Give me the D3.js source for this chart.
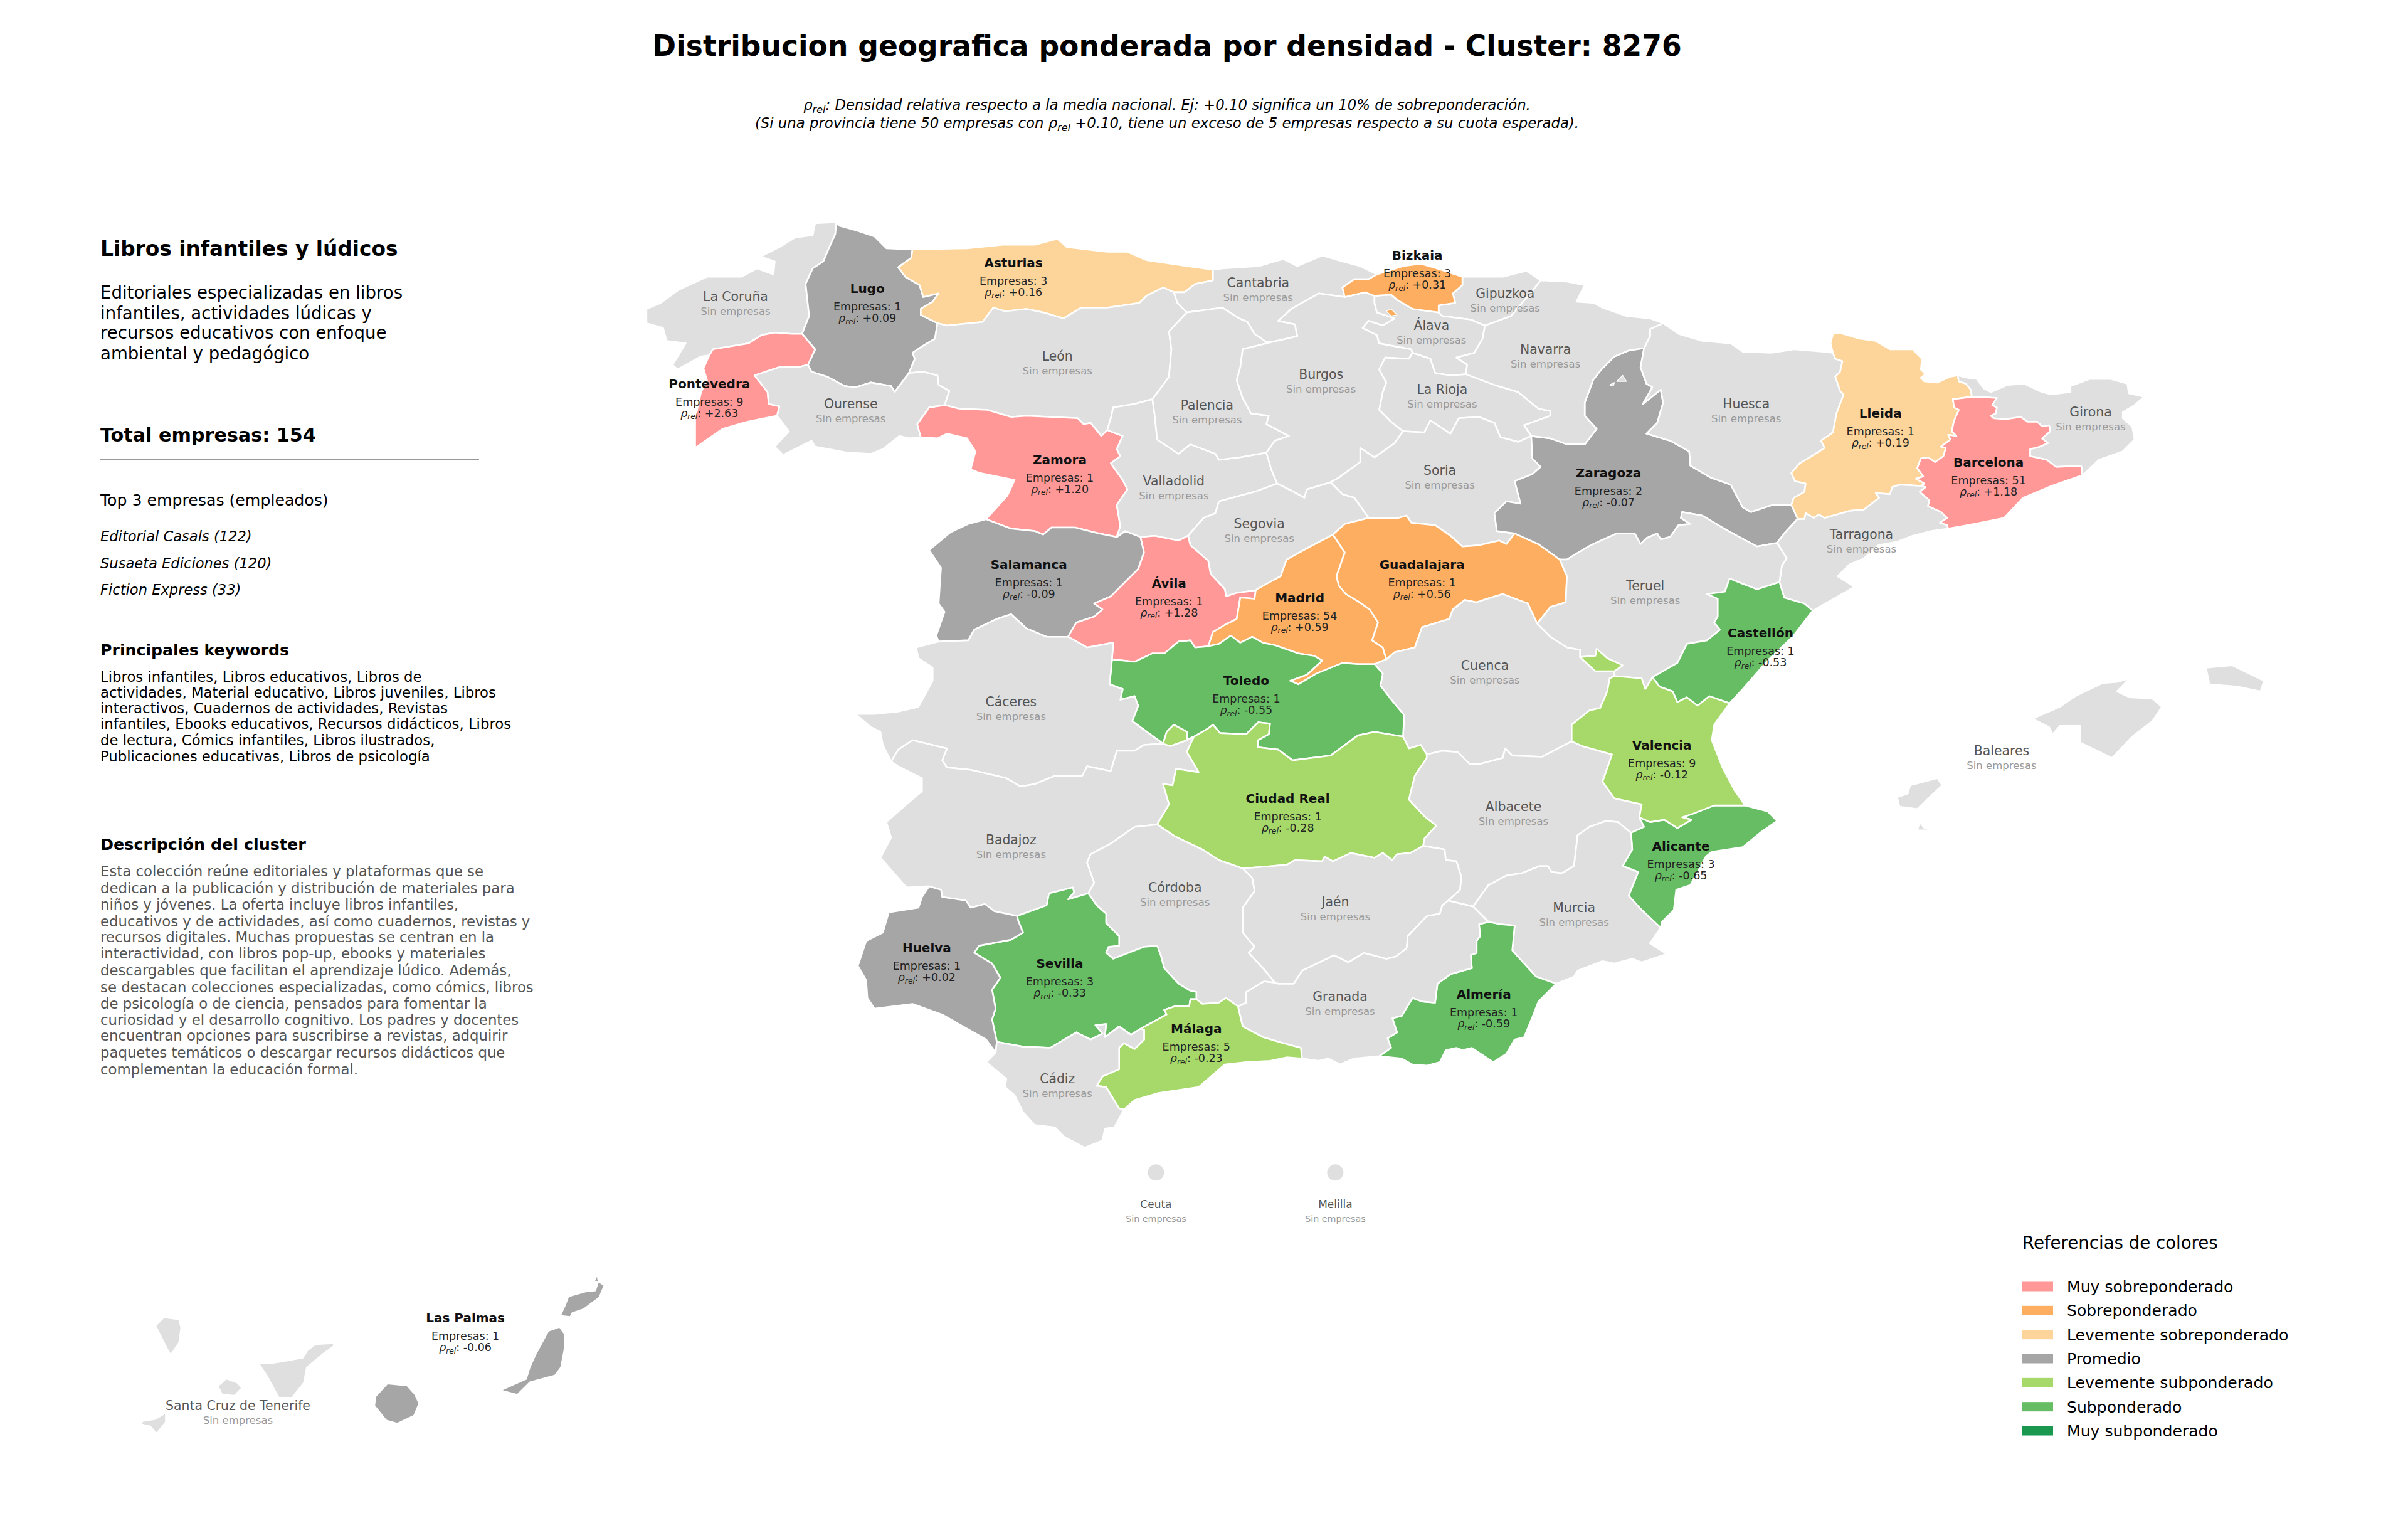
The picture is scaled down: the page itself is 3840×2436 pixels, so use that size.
<!DOCTYPE html>
<html>
<head>
<meta charset="utf-8">
<title>Distribucion geografica</title>
<script src="https://cdn.jsdelivr.net/npm/d3@7"></script>
<style>
  html, body { margin: 0; padding: 0; background: #fff; }
  svg { display: block; font-family: "DejaVu Sans", sans-serif; }
</style>
</head>
<body>
<div id="chart"></div>
<script>
// provinces with companies
var activeNames = ["Pontevedra","Lugo","Asturias","Bizkaia","Zamora","Salamanca","Ávila","Madrid","Guadalajara","Zaragoza","Lleida","Barcelona","Castellón","Valencia","Toledo","Ciudad Real","Alicante","Huelva","Sevilla","Málaga","Almería","Las Palmas"];
var activeEmpresas = [9,1,3,3,1,1,1,54,1,2,1,51,1,9,1,1,3,1,3,5,1,1];
var activeRho = [2.63,0.09,0.16,0.31,1.20,-0.09,1.28,0.59,0.56,-0.07,0.19,1.18,-0.53,-0.12,-0.55,-0.28,-0.65,0.02,-0.33,-0.23,-0.59,-0.06];

var legendLabels = ["Muy sobreponderado","Sobreponderado","Levemente sobreponderado","Promedio","Levemente subponderado","Subponderado","Muy subponderado"];
var legendColors = ["#ff9896","#fdae61","#fdd49a","#a6a6a6","#a6d96a","#66bd63","#1a9850"];
var rhoBreaks = [-0.75,-0.3,-0.1,0.1,0.25,1.0];

var keywordLines = ["Libros infantiles, Libros educativos, Libros de","actividades, Material educativo, Libros juveniles, Libros","interactivos, Cuadernos de actividades, Revistas","infantiles, Ebooks educativos, Recursos didácticos, Libros","de lectura, Cómics infantiles, Libros ilustrados,","Publicaciones educativas, Libros de psicología"];
var descLines = ["Esta colección reúne editoriales y plataformas que se","dedican a la publicación y distribución de materiales para","niños y jóvenes. La oferta incluye libros infantiles,","educativos y de actividades, así como cuadernos, revistas y","recursos digitales. Muchas propuestas se centran en la","interactividad, con libros pop-up, ebooks y materiales","descargables que facilitan el aprendizaje lúdico. Además,","se destacan colecciones especializadas, como cómics, libros","de psicología o de ciencia, pensados para fomentar la","curiosidad y el desarrollo cognitivo. Los padres y docentes","encuentran opciones para suscribirse a revistas, adquirir","paquetes temáticos o descargar recursos didácticos que","complementan la educación formal."];
var clusterLines = ["Editoriales especializadas en libros","infantiles, actividades lúdicas y","recursos educativos con enfoque","ambiental y pedagógico"];
var topCompanies = ["Editorial Casals (122)","Susaeta Ediciones (120)","Fiction Express (33)"];

// province boundaries in lon/lat. shared arcs so the borders line up
var borderArcs = {
  cor_coast: [[-7.69,43.79],[-7.87,43.78],[-7.89,43.68],[-8.04,43.66],[-8.17,43.58],[-8.33,43.50],[-8.21,43.46],[-8.22,43.35],[-8.36,43.40],[-8.49,43.33],[-8.78,43.33],[-9.02,43.22],[-9.17,43.11],[-9.29,43.06],[-9.29,42.94],[-9.15,42.90],[-9.12,42.79],[-8.96,42.77],[-9.07,42.59],[-9.03,42.55],[-8.83,42.66],[-8.76,42.67]],
  cor_pon: [[-8.76,42.67],[-8.73,42.72],[-8.61,42.74],[-8.43,42.77],[-8.32,42.84],[-8.21,42.86],[-8.07,42.85],[-7.98,42.85]],
  cor_lug: [[-7.69,43.79],[-7.70,43.69],[-7.75,43.58],[-7.80,43.46],[-7.89,43.40],[-7.95,43.27],[-7.92,43.00],[-7.98,42.85]],
  lug_coast: [[-7.69,43.79],[-7.67,43.76],[-7.52,43.72],[-7.37,43.67],[-7.27,43.57],[-7.05,43.56]],
  lug_ast: [[-7.05,43.56],[-7.06,43.49],[-7.17,43.41],[-7.11,43.33],[-6.99,43.26],[-6.96,43.16],[-6.83,43.19],[-6.88,43.12],[-6.98,43.06],[-6.98,43.01],[-6.84,42.94]],
  lug_leo: [[-6.84,42.94],[-6.86,42.81],[-6.96,42.75],[-7.05,42.69],[-7.03,42.64],[-7.08,42.52]],
  lug_our: [[-7.08,42.52],[-7.20,42.36],[-7.23,42.41],[-7.40,42.44],[-7.53,42.40],[-7.62,42.41],[-7.77,42.49],[-7.90,42.53],[-7.93,42.59]],
  lug_pon: [[-7.93,42.59],[-7.87,42.72],[-7.98,42.85]],
  ast_coast: [[-7.05,43.56],[-6.59,43.57],[-6.29,43.60],[-6.02,43.60],[-5.83,43.65],[-5.75,43.58],[-5.41,43.54],[-5.24,43.54],[-5.08,43.47],[-4.74,43.42],[-4.52,43.39]],
  ast_can: [[-4.52,43.39],[-4.52,43.30],[-4.67,43.27],[-4.76,43.20],[-4.85,43.20]],
  ast_leo: [[-4.85,43.20],[-4.94,43.24],[-5.08,43.17],[-5.14,43.11],[-5.41,43.07],[-5.63,43.07],[-5.78,42.98],[-5.95,43.03],[-6.09,43.06],[-6.27,43.04],[-6.37,43.07],[-6.46,42.95],[-6.76,42.92],[-6.84,42.94]],
  leo_can: [[-4.85,43.20],[-4.82,43.11],[-4.74,43.03]],
  leo_pal: [[-4.74,43.03],[-4.89,42.87],[-4.87,42.72],[-4.89,42.49],[-4.97,42.38],[-5.03,42.30]],
  leo_val: [[-5.03,42.30],[-5.18,42.26],[-5.36,42.23],[-5.38,42.14],[-5.41,42.04]],
  leo_zam: [[-5.41,42.04],[-5.46,41.99],[-5.55,42.10],[-5.61,42.09],[-5.66,42.14],[-5.88,42.15],[-6.09,42.16],[-6.22,42.15],[-6.42,42.21],[-6.66,42.22],[-6.78,42.25]],
  leo_our: [[-6.78,42.25],[-6.74,42.37],[-6.83,42.42],[-6.84,42.50],[-6.96,42.53],[-7.08,42.52]],
  our_zam: [[-6.78,42.25],[-6.91,42.23],[-7.01,42.09],[-6.98,41.98]],
  our_por: [[-6.98,41.98],[-7.08,41.97],[-7.16,41.99],[-7.30,41.88],[-7.40,41.84],[-7.60,41.85],[-7.87,41.90],[-7.90,41.95],[-8.14,41.83],[-8.21,41.90],[-8.09,42.03],[-8.19,42.16]],
  pon_our: [[-7.93,42.59],[-8.01,42.57],[-8.17,42.57],[-8.38,42.50],[-8.27,42.36],[-8.26,42.26],[-8.17,42.24],[-8.19,42.16]],
  pon_coast: [[-8.76,42.67],[-8.81,42.56],[-8.78,42.46],[-8.83,42.36],[-8.88,42.14],[-8.88,41.89],[-8.65,42.05],[-8.44,42.11],[-8.19,42.16]],
  zam_por: [[-6.98,41.98],[-6.84,41.97],[-6.76,42.01],[-6.59,41.97],[-6.52,41.86],[-6.56,41.71],[-6.49,41.68],[-6.19,41.62],[-6.25,41.49],[-6.43,41.29]],
  zam_sal: [[-6.43,41.29],[-6.22,41.21],[-6.02,41.19],[-5.95,41.16],[-5.88,41.22],[-5.68,41.22],[-5.48,41.17],[-5.33,41.14]],
  zam_val: [[-5.41,42.04],[-5.28,41.99],[-5.33,41.88],[-5.30,41.82],[-5.38,41.76],[-5.28,41.62],[-5.24,41.54],[-5.33,41.41],[-5.30,41.23],[-5.33,41.14]],
  sal_val: [[-5.33,41.14],[-5.26,41.19],[-5.13,41.14]],
  sal_por: [[-6.43,41.29],[-6.58,41.25],[-6.73,41.18],[-6.91,41.03],[-6.81,40.88],[-6.83,40.58],[-6.78,40.51],[-6.85,40.31],[-6.83,40.26]],
  sal_cac: [[-6.83,40.26],[-6.58,40.27],[-6.53,40.36],[-6.34,40.45],[-6.22,40.49],[-6.09,40.37],[-5.92,40.30],[-5.74,40.30]],
  sal_avi: [[-5.74,40.30],[-5.67,40.42],[-5.52,40.47],[-5.45,40.53],[-5.52,40.58],[-5.38,40.64],[-5.15,40.87],[-5.10,41.01],[-5.13,41.14]],
  avi_val: [[-5.13,41.14],[-5.01,41.15],[-4.81,41.11],[-4.73,41.15]],
  avi_seg: [[-4.73,41.15],[-4.71,41.07],[-4.56,40.94],[-4.54,40.83],[-4.42,40.70],[-4.41,40.64],[-4.32,40.67],[-4.16,40.69]],
  avi_mad: [[-4.16,40.69],[-4.17,40.62],[-4.29,40.63],[-4.32,40.45],[-4.42,40.40],[-4.52,40.34],[-4.56,40.22]],
  avi_tol: [[-4.56,40.22],[-4.67,40.21],[-4.71,40.27],[-4.81,40.26],[-4.93,40.16],[-5.03,40.16],[-5.18,40.09],[-5.37,40.11]],
  avi_cac: [[-5.37,40.11],[-5.36,40.25],[-5.58,40.21],[-5.74,40.30]],
  tol_cac: [[-5.37,40.11],[-5.39,39.90],[-5.28,39.86],[-5.30,39.77],[-5.18,39.80],[-5.15,39.72],[-5.20,39.59],[-4.94,39.40]],
  tol_exc: [[-4.94,39.40],[-4.91,39.50],[-4.85,39.56],[-4.74,39.50],[-4.74,39.43],[-4.68,39.46]],
  bad_exc: [[-4.94,39.40],[-4.88,39.38],[-4.74,39.43],[-4.68,39.46]],
  tol_cr: [[-4.68,39.46],[-4.56,39.53],[-4.52,39.56],[-4.46,39.49],[-4.24,39.48],[-4.14,39.58],[-4.04,39.57],[-4.05,39.48],[-4.14,39.43],[-4.14,39.37],[-3.97,39.35],[-3.85,39.26],[-3.53,39.30],[-3.30,39.47],[-3.16,39.50],[-2.92,39.46]],
  cr_bad: [[-4.68,39.46],[-4.74,39.33],[-4.64,39.16],[-4.83,39.19],[-4.86,39.05],[-4.94,39.06],[-4.89,38.89],[-4.99,38.72]],
  cac_bad: [[-4.94,39.40],[-5.10,39.39],[-5.18,39.34],[-5.33,39.34],[-5.38,39.17],[-5.58,39.21],[-5.62,39.13],[-5.85,39.13],[-6.02,39.06],[-6.14,39.04],[-6.26,39.11],[-6.56,39.18],[-6.76,39.20],[-6.80,39.26],[-6.76,39.36],[-7.05,39.43],[-7.17,39.35],[-7.23,39.25]],
  cac_por: [[-6.83,40.26],[-7.02,40.21],[-7.00,40.12],[-6.88,40.04],[-6.88,39.93],[-7.00,39.71],[-7.17,39.67],[-7.37,39.65],[-7.53,39.65],[-7.40,39.54],[-7.32,39.50],[-7.30,39.39],[-7.23,39.25]],
  bad_por: [[-7.23,39.25],[-7.17,39.21],[-6.97,39.11],[-6.97,39.00],[-7.10,38.89],[-7.27,38.74],[-7.23,38.61],[-7.32,38.44],[-7.10,38.19],[-6.91,38.20]],
  bad_hue: [[-6.91,38.20],[-6.81,38.17],[-6.80,38.11],[-6.60,38.08],[-6.56,38.02],[-6.44,38.05],[-6.36,37.99],[-6.17,37.95]],
  bad_sev: [[-6.17,37.95],[-5.92,38.04],[-5.90,38.14],[-5.70,38.19],[-5.69,38.15],[-5.74,38.09],[-5.57,38.14]],
  bad_cor: [[-5.57,38.14],[-5.52,38.23],[-5.58,38.40],[-5.55,38.47],[-5.38,38.56],[-5.18,38.70],[-4.99,38.72]],
  cr_cor: [[-4.99,38.72],[-4.84,38.62],[-4.61,38.51],[-4.47,38.42],[-4.27,38.35]],
  cr_jae: [[-4.27,38.35],[-3.90,38.38],[-3.83,38.42],[-3.60,38.41],[-3.58,38.45],[-3.51,38.41],[-3.36,38.48],[-3.16,38.44],[-3.09,38.48],[-3.01,38.42],[-2.97,38.47],[-2.86,38.48],[-2.75,38.54]],
  cr_alb: [[-2.75,38.54],[-2.74,38.60],[-2.64,38.71],[-2.74,38.79],[-2.87,38.93],[-2.82,39.13],[-2.72,39.28],[-2.72,39.31]],
  cr_cue: [[-2.72,39.31],[-2.77,39.39],[-2.87,39.36],[-2.92,39.46]],
  alb_cue: [[-2.72,39.31],[-2.59,39.34],[-2.46,39.33],[-2.36,39.23],[-2.27,39.23],[-2.08,39.28],[-2.06,39.36],[-2.00,39.30],[-1.75,39.29],[-1.50,39.42]],
  cue_val: [[-1.50,39.42],[-1.50,39.56],[-1.35,39.68],[-1.26,39.70],[-1.20,39.84],[-1.18,39.95],[-1.14,39.97]],
  cue_ter: [[-1.14,39.97],[-1.14,40.01],[-1.30,40.01],[-1.43,40.13],[-1.43,40.19],[-1.54,40.21],[-1.68,40.30],[-1.79,40.41]],
  gua_ter: [[-1.79,40.41],[-1.68,40.55],[-1.55,40.59],[-1.54,40.81],[-1.60,40.95]],
  gua_cue: [[-1.79,40.41],[-1.87,40.58],[-2.08,40.66],[-2.21,40.62],[-2.30,40.59],[-2.40,40.61],[-2.50,40.53],[-2.53,40.45],[-2.76,40.38],[-2.82,40.21],[-2.99,40.17],[-3.06,40.11]],
  mad_cue: [[-3.06,40.11],[-3.16,40.07]],
  gua_mad: [[-3.06,40.11],[-3.09,40.21],[-3.18,40.27],[-3.13,40.42],[-3.20,40.53],[-3.30,40.60],[-3.40,40.66],[-3.46,40.73],[-3.48,40.81],[-3.41,41.01],[-3.51,41.16]],
  mad_seg: [[-3.51,41.16],[-3.70,41.06],[-3.90,40.95],[-3.95,40.81],[-4.15,40.70],[-4.16,40.69]],
  mad_tol: [[-3.16,40.07],[-3.30,40.07],[-3.43,40.08],[-3.65,39.99],[-3.80,39.90],[-3.87,39.93],[-3.73,39.98],[-3.60,40.10],[-3.67,40.14],[-3.80,40.16],[-4.00,40.23],[-4.10,40.25],[-4.19,40.30],[-4.29,40.25],[-4.37,40.31],[-4.47,40.24],[-4.56,40.22]],
  tol_cue: [[-3.16,40.07],[-3.09,39.99],[-3.11,39.89],[-3.01,39.76],[-2.91,39.64],[-2.92,39.46]],
  seg_val: [[-4.73,41.15],[-4.60,41.30],[-4.50,41.34],[-4.47,41.44],[-4.17,41.52],[-3.98,41.59]],
  bur_seg: [[-3.98,41.59],[-3.86,41.53],[-3.75,41.47],[-3.73,41.54],[-3.53,41.60]],
  seg_sor: [[-3.53,41.60],[-3.43,41.50],[-3.33,41.47],[-3.21,41.30]],
  gua_seg: [[-3.21,41.30],[-3.41,41.25],[-3.51,41.16]],
  gua_sor: [[-3.21,41.30],[-2.96,41.30],[-2.89,41.32],[-2.85,41.26],[-2.65,41.24],[-2.52,41.15],[-2.42,41.06],[-2.28,41.07],[-2.11,41.11],[-2.05,41.08],[-1.98,41.17]],
  gua_zar: [[-1.98,41.17],[-1.78,41.08],[-1.60,40.95]],
  sor_zar: [[-1.84,41.99],[-1.83,41.80],[-1.76,41.73],[-1.83,41.67],[-1.98,41.61],[-1.93,41.42],[-2.05,41.44],[-2.10,41.39],[-2.15,41.34],[-2.13,41.19],[-1.98,41.17]],
  nav_zar: [[-1.84,41.99],[-1.68,41.97],[-1.54,41.92],[-1.39,41.92],[-1.29,42.05],[-1.39,42.16],[-1.39,42.27],[-1.32,42.46],[-1.25,42.55],[-1.14,42.66],[-1.02,42.71],[-0.89,42.73]],
  hue_zar: [[-0.89,42.73],[-0.92,42.57],[-0.87,42.43],[-0.82,42.40],[-0.90,42.26],[-0.75,42.38],[-0.73,42.27],[-0.78,42.10],[-0.87,42.01],[-0.67,41.95],[-0.51,41.86],[-0.50,41.74],[-0.33,41.64],[-0.16,41.58],[-0.06,41.39],[0.01,41.35],[0.19,41.41],[0.35,41.41]],
  lle_zar: [[0.35,41.41],[0.40,41.30],[0.40,41.29]],
  tar_zar: [[0.40,41.29],[0.29,41.17],[0.23,41.09]],
  ter_zar: [[0.23,41.09],[0.06,41.06],[-0.20,41.20],[-0.40,41.32],[-0.57,41.35],[-0.58,41.30],[-0.50,41.25],[-0.60,41.24],[-0.67,41.14],[-0.75,41.12],[-0.78,41.17],[-0.87,41.13],[-0.92,41.08],[-0.97,41.17],[-1.12,41.17],[-1.34,41.07],[-1.46,41.00],[-1.54,40.95],[-1.60,40.95]],
  hue_nav: [[-0.89,42.73],[-0.84,42.83],[-0.84,42.89],[-0.73,42.94]],
  hue_fra: [[-0.73,42.94],[-0.60,42.85],[-0.40,42.79],[-0.16,42.77],[-0.06,42.70],[0.18,42.69],[0.38,42.72],[0.62,42.70],[0.70,42.69]],
  hue_lle: [[0.70,42.69],[0.72,42.64],[0.78,42.62],[0.76,42.53],[0.72,42.49],[0.76,42.37],[0.79,42.34],[0.73,42.18],[0.70,42.02],[0.60,41.95],[0.63,41.89],[0.52,41.82],[0.42,41.76],[0.35,41.68],[0.38,41.61],[0.47,41.59],[0.46,41.52],[0.37,41.47],[0.35,41.41]],
  lle_fra: [[0.70,42.69],[0.68,42.77],[0.70,42.85],[0.75,42.86],[0.92,42.81],[1.06,42.79],[1.18,42.72],[1.37,42.72],[1.45,42.64],[1.44,42.55],[1.48,42.51],[1.44,42.48],[1.47,42.45],[1.58,42.44],[1.69,42.49],[1.75,42.50]],
  lle_gir: [[1.75,42.50],[1.76,42.45],[1.82,42.43],[1.86,42.38],[1.87,42.32]],
  bar_lle: [[1.87,42.32],[1.71,42.30],[1.72,42.23],[1.76,42.21],[1.72,42.12],[1.70,42.03],[1.74,41.99],[1.67,42.00],[1.69,41.96],[1.61,41.90],[1.65,41.89],[1.63,41.82],[1.56,41.77],[1.50,41.81],[1.44,41.80],[1.41,41.72],[1.46,41.65],[1.40,41.63],[1.47,41.59],[1.44,41.57]],
  lle_tar: [[0.40,41.29],[0.46,41.29],[0.47,41.34],[0.54,41.30],[0.58,41.33],[0.63,41.30],[0.84,41.36],[0.96,41.37],[1.09,41.47],[1.06,41.51],[1.18,41.50],[1.20,41.56],[1.26,41.58],[1.44,41.57]],
  bar_tar: [[1.44,41.57],[1.48,41.56],[1.43,41.52],[1.51,41.45],[1.50,41.40],[1.61,41.35],[1.66,41.30],[1.60,41.26],[1.66,41.24],[1.67,41.21]],
  bar_gir: [[1.87,42.32],[1.93,42.32],[2.08,42.31],[2.04,42.25],[2.08,42.23],[2.07,42.18],[2.03,42.16],[2.05,42.14],[2.15,42.13],[2.28,42.15],[2.34,42.11],[2.42,42.11],[2.46,42.07],[2.52,42.08],[2.53,42.03],[2.46,41.97],[2.51,41.93],[2.44,41.90],[2.36,41.88],[2.36,41.82],[2.50,41.79],[2.58,41.73],[2.79,41.74],[2.80,41.66]],
  bar_coast: [[2.80,41.66],[2.54,41.57],[2.30,41.47],[2.14,41.30],[1.89,41.25],[1.67,41.21]],
  gir_coast: [[2.80,41.66],[2.94,41.79],[3.14,41.86],[3.24,41.96],[3.22,42.07],[3.14,42.14],[3.14,42.19],[3.24,42.25],[3.32,42.32],[3.19,42.35],[3.18,42.43],[3.04,42.47],[2.86,42.47],[2.70,42.41],[2.70,42.36],[2.54,42.34],[2.46,42.36],[2.31,42.43],[2.17,42.42],[2.03,42.36],[1.97,42.39],[1.91,42.47],[1.83,42.48],[1.75,42.50]],
  tar_coast: [[1.67,41.21],[1.53,41.19],[1.37,41.15],[1.24,41.10],[1.08,41.07],[0.96,40.96],[0.84,40.91],[0.74,40.81],[0.88,40.72],[0.74,40.64],[0.53,40.52]],
  tar_ter: [[0.23,41.09],[0.31,40.96],[0.27,40.90],[0.25,40.76]],
  tar_cas: [[0.25,40.76],[0.29,40.63],[0.46,40.58],[0.53,40.52]],
  cas_ter: [[0.25,40.76],[0.06,40.70],[-0.07,40.75],[-0.17,40.79],[-0.21,40.68],[-0.36,40.66],[-0.27,40.62],[-0.27,40.47],[-0.30,40.42],[-0.25,40.36],[-0.36,40.27],[-0.53,40.24],[-0.61,40.08],[-0.82,39.96]],
  cas_coast: [[0.53,40.52],[0.36,40.30],[0.15,40.10],[-0.06,39.86],[-0.17,39.74]],
  cas_val: [[-0.17,39.74],[-0.34,39.80],[-0.44,39.72],[-0.53,39.79],[-0.61,39.75],[-0.65,39.84],[-0.76,39.88],[-0.82,39.96]],
  ter_val: [[-0.82,39.96],[-0.88,39.86],[-0.91,39.95],[-1.14,39.97]],
  val_coast: [[-0.17,39.74],[-0.30,39.56],[-0.32,39.43],[-0.23,39.20],[-0.13,39.01],[-0.04,38.88]],
  ali_val: [[-0.04,38.88],[-0.15,38.88],[-0.30,38.88],[-0.48,38.81],[-0.57,38.78],[-0.49,38.76],[-0.61,38.69],[-0.72,38.76],[-0.84,38.74],[-0.93,38.78]],
  alb_val: [[-0.93,38.78],[-0.91,38.89],[-1.14,38.94],[-1.24,39.08],[-1.16,39.31],[-1.41,39.38],[-1.50,39.42]],
  ali_coast: [[-0.04,38.88],[0.15,38.83],[0.23,38.75],[0.10,38.66],[-0.06,38.53],[-0.32,38.49],[-0.37,38.45],[-0.50,38.21],[-0.62,38.17],[-0.64,38.00],[-0.74,37.90],[-0.75,37.85]],
  ali_mur: [[-0.75,37.85],[-0.91,38.00],[-1.02,38.12],[-0.94,38.32],[-1.07,38.37],[-0.99,38.51],[-1.00,38.65]],
  alb_ali: [[-1.00,38.65],[-0.89,38.70],[-0.93,38.78]],
  alb_mur: [[-1.00,38.65],[-1.11,38.74],[-1.21,38.75],[-1.35,38.70],[-1.45,38.63],[-1.48,38.37],[-1.58,38.31],[-1.67,38.32],[-1.70,38.37],[-1.77,38.37],[-1.92,38.31],[-2.05,38.29],[-2.20,38.21],[-2.33,38.03]],
  alb_gra: [[-2.33,38.03],[-2.54,38.08]],
  alb_jae: [[-2.54,38.08],[-2.44,38.17],[-2.43,38.28],[-2.47,38.41],[-2.56,38.42],[-2.57,38.51],[-2.75,38.54]],
  gra_mur: [[-2.33,38.03],[-2.20,37.90]],
  alm_mur: [[-2.20,37.90],[-2.10,37.88],[-1.98,37.87],[-2.00,37.66],[-1.80,37.44],[-1.63,37.38]],
  mur_coast: [[-0.75,37.85],[-0.84,37.72],[-0.70,37.63],[-0.91,37.56],[-0.99,37.59],[-1.14,37.55],[-1.24,37.57],[-1.45,37.49],[-1.48,37.44],[-1.63,37.38]],
  alm_coast: [[-1.63,37.38],[-1.78,37.23],[-1.83,37.10],[-1.90,36.93],[-1.98,36.91],[-2.05,36.79],[-2.16,36.72],[-2.34,36.84],[-2.42,36.82],[-2.47,36.84],[-2.56,36.82],[-2.61,36.72],[-2.72,36.69],[-2.84,36.70],[-2.93,36.75],[-3.12,36.77]],
  alm_gra: [[-3.12,36.77],[-3.02,36.84],[-3.05,36.92],[-2.97,36.97],[-3.01,37.09],[-2.93,37.11],[-2.84,37.26],[-2.76,37.23],[-2.65,37.22],[-2.63,37.38],[-2.52,37.46],[-2.34,37.51],[-2.35,37.62],[-2.30,37.64],[-2.30,37.74],[-2.27,37.78],[-2.28,37.88],[-2.20,37.90]],
  gra_jae: [[-2.54,38.08],[-2.59,38.04],[-2.61,37.97],[-2.72,37.95],[-2.88,37.78],[-2.89,37.68],[-2.98,37.61],[-3.06,37.59],[-3.25,37.64],[-3.38,37.56],[-3.50,37.62],[-3.77,37.49],[-3.84,37.38],[-3.97,37.38],[-4.00,37.39]],
  cor_jae: [[-4.27,38.35],[-4.19,38.27],[-4.17,38.16],[-4.27,38.02],[-4.27,37.81],[-4.17,37.69],[-4.22,37.64],[-4.09,37.50],[-4.00,37.39]],
  cor_gra: [[-4.00,37.39],[-4.09,37.40],[-4.24,37.31],[-4.24,37.22],[-4.31,37.19]],
  gra_mal: [[-4.31,37.19],[-4.27,37.02],[-4.10,36.93],[-3.93,36.88],[-3.78,36.84],[-3.77,36.75]],
  gra_coast: [[-3.77,36.75],[-3.63,36.73],[-3.55,36.75],[-3.45,36.70],[-3.33,36.75],[-3.12,36.77]],
  cor_mal: [[-4.31,37.19],[-4.41,37.26],[-4.47,37.22],[-4.61,37.21],[-4.66,37.25]],
  cor_sev: [[-5.57,38.14],[-5.50,38.04],[-5.42,37.97],[-5.42,37.89],[-5.31,37.78],[-5.31,37.70],[-5.40,37.69],[-5.42,37.64],[-5.36,37.59],[-5.18,37.66],[-5.10,37.69],[-4.99,37.70],[-4.96,37.62],[-4.93,37.51],[-4.81,37.38],[-4.71,37.32],[-4.66,37.31],[-4.66,37.25]],
  mal_sev: [[-4.66,37.25],[-4.71,37.25],[-4.72,37.19],[-4.84,37.19],[-4.93,37.16],[-4.91,37.12],[-5.13,37.00]],
  cad_sev: [[-5.13,37.00],[-5.21,36.95],[-5.31,37.02],[-5.43,36.93],[-5.42,37.04],[-5.51,37.03],[-5.45,36.96],[-5.55,36.91],[-5.67,36.97],[-5.89,36.84],[-6.12,36.85],[-6.34,36.89]],
  hue_sev: [[-6.34,36.89],[-6.38,37.08],[-6.35,37.17],[-6.38,37.33],[-6.31,37.43],[-6.38,37.55],[-6.53,37.64],[-6.49,37.70],[-6.22,37.75],[-6.12,37.81],[-6.16,37.91],[-6.17,37.95]],
  gua_river: [[-6.34,36.89],[-6.35,36.80]],
  hue_coast: [[-6.35,36.80],[-6.43,36.91],[-6.80,37.12],[-7.05,37.21],[-7.37,37.17],[-7.43,37.26],[-7.44,37.41],[-7.51,37.53],[-7.44,37.74],[-7.30,37.81],[-7.25,37.98],[-7.00,38.02],[-6.97,38.11],[-6.91,38.20]],
  cad_coast: [[-6.35,36.80],[-6.43,36.72],[-6.26,36.58],[-6.27,36.51],[-6.19,36.44],[-6.12,36.30],[-6.02,36.19],[-5.85,36.17],[-5.77,36.09],[-5.60,36.00],[-5.45,36.06],[-5.43,36.16],[-5.35,36.17],[-5.27,36.32]],
  cad_mal: [[-5.27,36.32],[-5.31,36.33],[-5.42,36.51],[-5.50,36.52],[-5.45,36.60],[-5.31,36.66],[-5.31,36.84],[-5.27,36.88],[-5.18,36.83],[-5.10,36.91],[-5.10,36.99],[-5.13,37.00]],
  mal_coast: [[-5.27,36.32],[-5.18,36.40],[-4.98,36.46],[-4.64,36.51],[-4.42,36.70],[-4.24,36.72],[-4.04,36.73],[-3.90,36.76],[-3.77,36.75]],
  can_coast: [[-4.52,43.39],[-4.44,43.40],[-4.13,43.42],[-3.93,43.48],[-3.81,43.42],[-3.60,43.51],[-3.43,43.46],[-3.28,43.42],[-3.14,43.35]],
  biz_can: [[-3.14,43.35],[-3.21,43.31],[-3.33,43.31],[-3.43,43.24],[-3.41,43.16]],
  biz_bur: [[-3.41,43.16],[-3.24,43.20],[-3.16,43.17]],
  biz_ala: [[-3.16,43.17],[-3.02,43.18],[-2.96,43.13],[-2.84,43.06],[-2.62,43.03]],
  biz_gip: [[-2.42,43.33],[-2.42,43.26],[-2.50,43.19],[-2.48,43.11],[-2.62,43.09],[-2.62,43.03]],
  biz_coast: [[-3.14,43.35],[-2.92,43.42],[-2.77,43.44],[-2.60,43.39],[-2.42,43.33]],
  gip_coast: [[-2.42,43.33],[-2.08,43.33],[-1.88,43.38],[-1.76,43.30]],
  gip_nav: [[-1.76,43.30],[-1.84,43.20],[-2.01,43.00],[-2.23,42.92]],
  ala_gip: [[-2.23,42.92],[-2.35,42.97],[-2.59,43.00],[-2.62,43.03]],
  nav_fra: [[-0.73,42.94],[-0.84,42.98],[-1.04,43.00],[-1.24,43.07],[-1.31,43.11],[-1.46,43.12],[-1.39,43.26],[-1.54,43.29],[-1.76,43.30]],
  ala_nav: [[-2.23,42.92],[-2.25,42.81],[-2.32,42.69],[-2.47,42.65],[-2.38,42.59],[-2.39,42.51]],
  ala_rio: [[-2.84,42.69],[-2.69,42.64],[-2.65,42.52],[-2.52,42.50],[-2.39,42.51]],
  ala_bur: [[-3.16,43.17],[-3.16,43.11],[-3.14,43.03],[-2.99,42.98],[-3.09,42.92],[-3.21,42.96],[-3.26,42.90],[-3.14,42.84],[-3.12,42.77],[-2.85,42.72],[-2.84,42.69]],
  bur_rio: [[-2.84,42.69],[-2.87,42.64],[-3.07,42.65],[-3.12,42.55],[-3.06,42.44],[-3.09,42.36],[-3.12,42.21],[-3.02,42.11],[-2.92,42.03]],
  nav_rio: [[-2.39,42.51],[-2.15,42.42],[-1.95,42.36],[-1.78,42.22],[-1.68,42.20],[-1.68,42.16],[-1.90,42.08],[-1.84,41.99]],
  rio_sor: [[-2.92,42.03],[-2.74,42.02],[-2.69,42.12],[-2.52,42.01],[-2.45,42.14],[-2.28,42.15],[-2.15,42.10],[-2.10,41.98],[-1.95,41.94],[-1.84,41.99]],
  bur_sor: [[-2.92,42.03],[-2.99,41.93],[-3.16,41.81],[-3.28,41.89],[-3.28,41.77],[-3.46,41.64],[-3.53,41.60]],
  bur_can: [[-3.41,43.16],[-3.63,43.19],[-3.86,43.06],[-3.97,42.96],[-3.83,42.93],[-3.81,42.83],[-4.03,42.78]],
  can_pal: [[-4.74,43.03],[-4.44,43.07],[-4.30,42.98],[-4.23,42.95],[-4.17,42.85],[-4.07,42.78],[-4.03,42.78]],
  bur_pal: [[-4.03,42.78],[-4.27,42.72],[-4.29,42.57],[-4.32,42.46],[-4.27,42.31],[-4.20,42.18],[-4.05,42.16],[-4.07,42.09],[-3.88,41.99],[-4.00,41.95],[-4.07,41.85]],
  bur_val: [[-4.07,41.85],[-4.03,41.71],[-3.98,41.59]],
  pal_val: [[-5.03,42.30],[-5.01,42.16],[-4.99,41.96],[-4.81,41.84],[-4.71,41.92],[-4.50,41.84],[-4.47,41.79],[-4.30,41.81],[-4.07,41.85]]
};

// arcs per province, "-" means walk the arc backwards. later ones draw on top
var provinceArcs = {
  "La Coruña": [["cor_coast","cor_pon","-cor_lug"]],
  "Lugo": [["lug_coast","lug_ast","lug_leo","lug_our","lug_pon","-cor_lug"]],
  "Asturias": [["ast_coast","ast_can","ast_leo","-lug_ast"]],
  "Cantabria": [["can_coast","biz_can","bur_can","-can_pal","-leo_can","-ast_can"]],
  "León": [["leo_can","leo_pal","leo_val","leo_zam","leo_our","-lug_leo","-ast_leo"]],
  "Pontevedra": [["pon_coast","-pon_our","lug_pon","-cor_pon"]],
  "Ourense": [["pon_our","-our_por","-our_zam","leo_our","lug_our"]],
  "Zamora": [["-leo_zam","zam_val","-zam_sal","-zam_por","-our_zam"]],
  "Salamanca": [["zam_sal","sal_val","-sal_avi","-sal_cac","-sal_por"]],
  "Valladolid": [["pal_val","bur_val","-seg_val","-avi_val","-sal_val","-zam_val","-leo_val"]],
  "Palencia": [["can_pal","bur_pal","-pal_val","-leo_pal"]],
  "Burgos": [["bur_can","bur_pal","bur_val","bur_seg","-bur_sor","-bur_rio","-ala_bur","-biz_bur"]],
  "Gipuzkoa": [["gip_coast","gip_nav","ala_gip","-biz_gip"]],
  "Álava": [["-ala_gip","ala_nav","-ala_rio","-ala_bur","biz_ala"]],
  "La Rioja": [["ala_rio","nav_rio","-rio_sor","-bur_rio"]],
  "Soria": [["rio_sor","sor_zar","-gua_sor","-seg_sor","-bur_sor"]],
  "Segovia": [["seg_val","bur_seg","seg_sor","gua_seg","mad_seg","-avi_seg"]],
  "Ávila": [["avi_seg","avi_mad","avi_tol","avi_cac","sal_avi","avi_val"]],
  "Madrid": [["-mad_seg","-gua_mad","mad_cue","mad_tol","-avi_mad"]],
  "Guadalajara": [["gua_sor","gua_zar","-gua_ter","gua_cue","gua_mad","-gua_seg"]],
  "Zaragoza": [["nav_zar","hue_zar","lle_zar","tar_zar","ter_zar","-gua_zar","-sor_zar"]],
  "Huesca": [["hue_nav","hue_fra","hue_lle","-hue_zar"]],
  "Lleida": [["lle_fra","lle_gir","bar_lle","-lle_tar","-lle_zar","-hue_lle"]],
  "Girona": [["-lle_gir","-gir_coast","-bar_gir"]],
  "Barcelona": [["bar_gir","bar_coast","-bar_tar","-bar_lle"]],
  "Tarragona": [["lle_tar","bar_tar","tar_coast","-tar_cas","-tar_ter","-tar_zar"]],
  "Teruel": [["tar_ter","cas_ter","ter_val","cue_ter","gua_ter","-ter_zar"]],
  "Castellón": [["tar_cas","cas_coast","cas_val","-cas_ter"]],
  "Cuenca": [["-gua_cue","-cue_ter","-cue_val","-alb_cue","cr_cue","-tol_cue","-mad_cue"]],
  "Toledo": [["-mad_tol","tol_cue","-tol_cr","-tol_exc","-tol_cac","-avi_tol"]],
  "Cáceres": [["cac_por","-cac_bad","-tol_cac","avi_cac","-sal_cac"]],
  "Badajoz": [["cac_bad","bad_por","bad_hue","bad_sev","bad_cor","-cr_bad","-bad_exc"]],
  "Ciudad Real": [["tol_cr","-cr_cue","-cr_alb","-cr_jae","-cr_cor","-cr_bad"],["tol_exc","-bad_exc"]],
  "Albacete": [["alb_cue","-alb_val","-alb_ali","alb_mur","alb_gra","alb_jae","cr_alb"]],
  "Alicante": [["ali_coast","ali_mur","alb_ali","-ali_val"]],
  "Murcia": [["-ali_mur","mur_coast","-alm_mur","-gra_mur","-alb_mur"]],
  "Almería": [["alm_mur","alm_coast","alm_gra"]],
  "Granada": [["gra_mur","-alm_gra","-gra_coast","-gra_mal","-cor_gra","-gra_jae","-alb_gra"]],
  "Jaén": [["cr_jae","-alb_jae","gra_jae","-cor_jae"]],
  "Córdoba": [["cr_cor","cor_jae","cor_gra","cor_mal","-cor_sev","bad_cor"]],
  "Sevilla": [["cor_sev","mal_sev","cad_sev","hue_sev","bad_sev"]],
  "Huelva": [["bad_hue","-hue_sev","gua_river","hue_coast"]],
  "Málaga": [["-mal_sev","-cor_mal","gra_mal","-mal_coast","cad_mal"]],
  "Cádiz": [["-cad_mal","-cad_coast","-gua_river","-cad_sev"]],
  "Navarra": [["-gip_nav","-nav_fra","-hue_nav","-nav_zar","-nav_rio","-ala_nav"]],
  "Bizkaia": [["biz_coast","biz_gip","-biz_ala","-biz_bur","-biz_can"]],
  "Valencia": [["-cas_val","val_coast","ali_val","alb_val","cue_val","-ter_val"]]
};

// loose polygons: islands and the Valencia exclave
var extraRings = {
  "Valencia": [[[-1.29,40.20],[-1.20,40.12],[-1.07,40.06],[-1.14,40.01],[-1.30,40.01],[-1.43,40.13],[-1.30,40.14]]],
  "Baleares": [
    [[3.20,39.95],[3.09,39.92],[2.97,39.91],[2.74,39.80],[2.61,39.71],[2.38,39.61],[2.52,39.54],[2.55,39.48],[2.61,39.55],[2.78,39.55],[2.78,39.41],[3.05,39.28],[3.22,39.46],[3.39,39.59],[3.47,39.71],[3.39,39.78],[3.20,39.79],[3.09,39.84]],
    [[1.58,39.11],[1.35,39.05],[1.33,38.98],[1.24,38.95],[1.26,38.87],[1.41,38.85],[1.62,39.05]],
    [[1.43,38.74],[1.41,38.67],[1.59,38.67],[1.47,38.69]],
    [[3.84,40.04],[4.06,40.06],[4.33,39.93],[4.30,39.84],[4.11,39.88],[3.87,39.90]]
  ],
  "Ceuta": [[[-5.06,36.20],[-5.03,36.19],[-5.03,36.17]]],
  "Melilla": [[[-3.45,36.11],[-3.43,36.09],[-3.45,36.07]]]
};
// tiny pieces inside a neighbour, thin outline
var enclaveRings = {
  "Navarra": [[[-1.12,42.45],[-1.07,42.50],[-1.04,42.45]],[[-1.18,42.42],[-1.14,42.44],[-1.15,42.41]]],
  "Bizkaia": [[[-3.06,43.04],[-3.02,43.06],[-2.97,43.01],[-3.02,43.00]]]
};
var canaryRings = {
  "Santa Cruz de Tenerife": [
    [[-17.95,28.86],[-17.80,28.84],[-17.78,28.76],[-17.80,28.61],[-17.88,28.49],[-17.92,28.56],[-18.03,28.78]],
    [[-17.94,27.86],[-17.94,27.78],[-18.03,27.67],[-18.09,27.74],[-18.18,27.76],[-18.17,27.78],[-18.04,27.80]],
    [[-17.30,28.22],[-17.19,28.18],[-17.15,28.13],[-17.22,28.06],[-17.34,28.07],[-17.38,28.15]],
    [[-16.37,28.58],[-16.45,28.52],[-16.50,28.44],[-16.72,28.40],[-16.85,28.38],[-16.95,28.38],[-16.87,28.26],[-16.75,28.04],[-16.62,28.04],[-16.50,28.19],[-16.47,28.35],[-16.29,28.50],[-16.19,28.57],[-16.19,28.59]]
  ],
  "Las Palmas": [
    [[-15.62,28.17],[-15.42,28.15],[-15.34,28.06],[-15.30,27.97],[-15.35,27.85],[-15.52,27.77],[-15.63,27.80],[-15.75,27.95],[-15.74,28.04]],
    [[-13.83,28.76],[-13.78,28.69],[-13.78,28.56],[-13.82,28.35],[-13.88,28.27],[-14.14,28.20],[-14.27,28.07],[-14.42,28.11],[-14.17,28.22],[-14.13,28.35],[-14.07,28.48],[-13.94,28.72]],
    [[-13.42,29.23],[-13.37,29.20],[-13.42,29.08],[-13.58,28.96],[-13.70,28.92],[-13.72,28.88],[-13.81,28.89],[-13.76,29.00],[-13.73,29.08],[-13.55,29.13],[-13.45,29.14]],
    [[-13.44,29.29],[-13.43,29.25],[-13.46,29.24]]
  ]
};
// the two cities are also drawn as dots under their real outline
var cityDots = [["Ceuta",-5.00,35.79],["Melilla",-3.49,35.79]];

// where each province name sits, lon/lat
var labelAt = {
  "La Coruña":[-8.54,43.16],"Lugo":[-7.43,43.23],"Asturias":[-6.20,43.45],"Cantabria":[-4.14,43.28],"Bizkaia":[-2.80,43.51],"Gipuzkoa":[-2.06,43.19],"Álava":[-2.68,42.92],"Navarra":[-1.72,42.72],"León":[-5.83,42.66],"Burgos":[-3.61,42.51],"La Rioja":[-2.59,42.38],"Huesca":[-0.03,42.26],"Girona":[2.87,42.19],"Ourense":[-7.57,42.26],"Palencia":[-4.57,42.25],"Lleida":[1.10,42.18],"Pontevedra":[-8.76,42.43],"Zamora":[-5.81,41.79],"Barcelona":[2.01,41.77],"Zaragoza":[-1.19,41.68],"Soria":[-2.61,41.70],"Valladolid":[-4.85,41.61],"Tarragona":[0.94,41.16],"Segovia":[-4.13,41.25],"Salamanca":[-6.07,40.91],"Guadalajara":[-2.76,40.91],"Ávila":[-4.89,40.75],"Teruel":[-0.88,40.73],"Madrid":[-3.79,40.63],"Castellón":[0.09,40.33],"Cuenca":[-2.23,40.06],"Toledo":[-4.24,39.93],"Cáceres":[-6.22,39.75],"Valencia":[-0.74,39.39],"Baleares":[2.12,39.34],"Ciudad Real":[-3.89,38.94],"Albacete":[-1.99,38.87],"Badajoz":[-6.22,38.59],"Alicante":[-0.58,38.54],"Córdoba":[-4.84,38.19],"Jaén":[-3.49,38.07],"Murcia":[-1.48,38.02],"Huelva":[-6.93,37.68],"Sevilla":[-5.81,37.55],"Granada":[-3.45,37.27],"Almería":[-2.24,37.29],"Málaga":[-4.66,37.00],"Cádiz":[-5.83,36.58],"Ceuta":[-5.00,35.53],"Melilla":[-3.49,35.53]
};
var canaryLabelAt = {"Las Palmas":[-14.81,28.86],"Santa Cruz de Tenerife":[-17.18,27.95]};

var width = 3840, height = 2436;
var noDataColor = "#dfdfdf";

var svg = d3.select("#chart").append("svg").attr("width", width).attr("height", height);

// plain lon/lat plot, same scale on both axes
var mainProjection = d3.geoIdentity().reflectY(true).scale(189.4).translate([2790.4, 8648]);
var canaryProjection = d3.geoIdentity().reflectY(true).scale(153).translate([3008, 6517]);
var mainPath = d3.geoPath(mainProjection);
var canaryPath = d3.geoPath(canaryProjection);

var rhoColor = d3.scaleThreshold().domain(rhoBreaks).range(legendColors.slice().reverse());

function colorOf(name) {
    var i = activeNames.indexOf(name);
    return i < 0 ? noDataColor : rhoColor(activeRho[i]);
}

function closeRing(r) { return r.concat([r[0]]); }

function stitch(names) {
    var ring = [];
    names.forEach(function (n) {
        var rev = n[0] === "-";
        var pts = borderArcs[rev ? n.slice(1) : n];
        if (rev) pts = pts.slice().reverse();
        ring = ring.concat(ring.length ? pts.slice(1) : pts);
    });
    return closeRing(ring);
}

function multi(rings) {
    return {type: "MultiPolygon", coordinates: rings.map(function (r) { return [closeRing(r)]; })};
}

var features = [];
Object.keys(provinceArcs).forEach(function (name) {
    var polys = provinceArcs[name].map(function (a) { return [stitch(a)]; });
    (extraRings[name] || []).forEach(function (r) { polys.push([closeRing(r)]); });
    features.push({name: name, geo: {type: "MultiPolygon", coordinates: polys}});
});
["Baleares", "Ceuta", "Melilla"].forEach(function (name) {
    features.push({name: name, geo: multi(extraRings[name])});
});

var canaryFeatures = Object.keys(canaryRings).map(function (name) {
    return {name: name, geo: multi(canaryRings[name])};
});
var enclaveFeatures = Object.keys(enclaveRings).map(function (name) {
    return {name: name, geo: multi(enclaveRings[name])};
});

svg.append("g").selectAll("path").data(features).enter().append("path")
    .attr("d", function (d) { return mainPath(d.geo); })
    .attr("fill", function (d) { return colorOf(d.name); })
    .attr("stroke", "#fff").attr("stroke-width", 2.6).attr("stroke-linejoin", "round");

svg.append("g").selectAll("path").data(enclaveFeatures).enter().append("path")
    .attr("d", function (d) { return mainPath(d.geo); })
    .attr("fill", function (d) { return colorOf(d.name); })
    .attr("stroke", "#fff").attr("stroke-width", 1.4).attr("stroke-linejoin", "round");

svg.append("g").selectAll("path").data(canaryFeatures).enter().append("path")
    .attr("d", function (d) { return canaryPath(d.geo); })
    .attr("fill", function (d) { return colorOf(d.name); });

svg.append("g").selectAll("circle").data(cityDots).enter().append("circle")
    .attr("cx", function (d) { return mainProjection([d[1], d[2]])[0]; })
    .attr("cy", function (d) { return mainProjection([d[1], d[2]])[1]; })
    .attr("r", 13).attr("fill", noDataColor);

function rhoText(v) { return (v > 0 ? "+" : "") + v.toFixed(2); }

function addRho(sel, value, size) {
    sel.append("tspan").attr("font-style", "italic").text("ρ");
    sel.append("tspan").attr("font-style", "italic").attr("font-size", size * 0.7).attr("dy", size * 0.2).text("rel");
    sel.append("tspan").attr("dy", -size * 0.2).text(": " + value);
}

function drawLabel(g, name, p) {
    var i = activeNames.indexOf(name);
    var small = name === "Ceuta" || name === "Melilla";
    var t = g.append("g").attr("transform", "translate(" + p[0] + "," + p[1] + ")").attr("text-anchor", "middle");
    if (i < 0) {
        t.append("text").attr("y", 7).attr("font-size", small ? 17 : 20.4).attr("fill", "#555").text(name);
        t.append("text").attr("y", 29).attr("font-size", small ? 14.3 : 16.5).attr("fill", "#999").text("Sin empresas");
    } else {
        t.append("text").attr("y", 7).attr("font-size", 20).attr("font-weight", "bold").attr("fill", "#111").text(name);
        t.append("text").attr("y", 35).attr("font-size", 17.5).attr("fill", "#222").text("Empresas: " + activeEmpresas[i]);
        var r = t.append("text").attr("y", 53).attr("font-size", 17.5).attr("fill", "#222");
        addRho(r, rhoText(activeRho[i]), 17.5);
    }
}

var labels = svg.append("g");
Object.keys(labelAt).forEach(function (name) { drawLabel(labels, name, mainProjection(labelAt[name])); });
Object.keys(canaryLabelAt).forEach(function (name) { drawLabel(labels, name, canaryProjection(canaryLabelAt[name])); });

// header
svg.append("text").attr("x", 1861).attr("y", 89).attr("text-anchor", "middle")
    .attr("font-size", 45.6).attr("font-weight", "bold").attr("fill", "#000")
    .text("Distribucion geografica ponderada por densidad - Cluster: 8276");

var sub1 = svg.append("text").attr("x", 1861).attr("y", 175).attr("text-anchor", "middle").attr("font-size", 22.8).attr("font-style", "italic");
sub1.append("tspan").text("ρ");
sub1.append("tspan").attr("font-size", 16).attr("dy", 5).text("rel");
sub1.append("tspan").attr("dy", -5).text(": Densidad relativa respecto a la media nacional. Ej: +0.10 significa un 10% de sobreponderación.");
var sub2 = svg.append("text").attr("x", 1861).attr("y", 204).attr("text-anchor", "middle").attr("font-size", 22.8).attr("font-style", "italic");
sub2.append("tspan").text("(Si una provincia tiene 50 empresas con ρ");
sub2.append("tspan").attr("font-size", 16).attr("dy", 5).text("rel");
sub2.append("tspan").attr("dy", -5).text(" +0.10, tiene un exceso de 5 empresas respecto a su cuota esperada).");

// left panel
var panelX = 160;
function panelText(y, txt, size, extra) {
    var t = svg.append("text").attr("x", panelX).attr("y", y).attr("font-size", size).attr("fill", "#000").text(txt);
    if (extra) Object.keys(extra).forEach(function (k) { t.attr(k, extra[k]); });
    return t;
}
panelText(408, "Libros infantiles y lúdicos", 32.8, {"font-weight": "bold"});
var clusterY = [476, 509, 540, 573];
clusterLines.forEach(function (l, i) { panelText(clusterY[i], l, 27.6); });
panelText(704, "Total empresas: 154", 30.2, {"font-weight": "bold"});
svg.append("line").attr("x1", 159).attr("x2", 764).attr("y1", 733).attr("y2", 733).attr("stroke", "#999").attr("stroke-width", 2);
panelText(806, "Top 3 empresas (empleados)", 25.2);
var topY = [863, 906, 948];
topCompanies.forEach(function (l, i) { panelText(topY[i], l, 22.6, {"font-style": "italic"}); });
panelText(1045, "Principales keywords", 25.2, {"font-weight": "bold"});
var keyY = [1087, 1112, 1137, 1162, 1188, 1214];
keywordLines.forEach(function (l, i) { panelText(keyY[i], l, 22.8); });
panelText(1355, "Descripción del cluster", 25.4, {"font-weight": "bold"});
var descY = [1397, 1424, 1450, 1477, 1502, 1528, 1555, 1582, 1608, 1634, 1659, 1686, 1713];
descLines.forEach(function (l, i) { panelText(descY[i], l, 22.8, {"fill": "#555"}); });

// legend
var legendY = d3.scaleLinear().domain([0, 6]).range([2051, 2281]);
svg.append("text").attr("x", 3225).attr("y", 1991).attr("font-size", 27.6).text("Referencias de colores");
var legend = svg.append("g").selectAll("g").data(legendLabels).enter().append("g");
legend.append("rect").attr("x", 3225).attr("width", 49).attr("height", 15)
    .attr("y", function (d, i) { return legendY(i) - 7.5; })
    .attr("fill", function (d, i) { return legendColors[i]; });
legend.append("text").attr("x", 3296).attr("font-size", 25.1)
    .attr("y", function (d, i) { return legendY(i) + 9; })
    .text(function (d) { return d; });
</script>
</body>
</html>
